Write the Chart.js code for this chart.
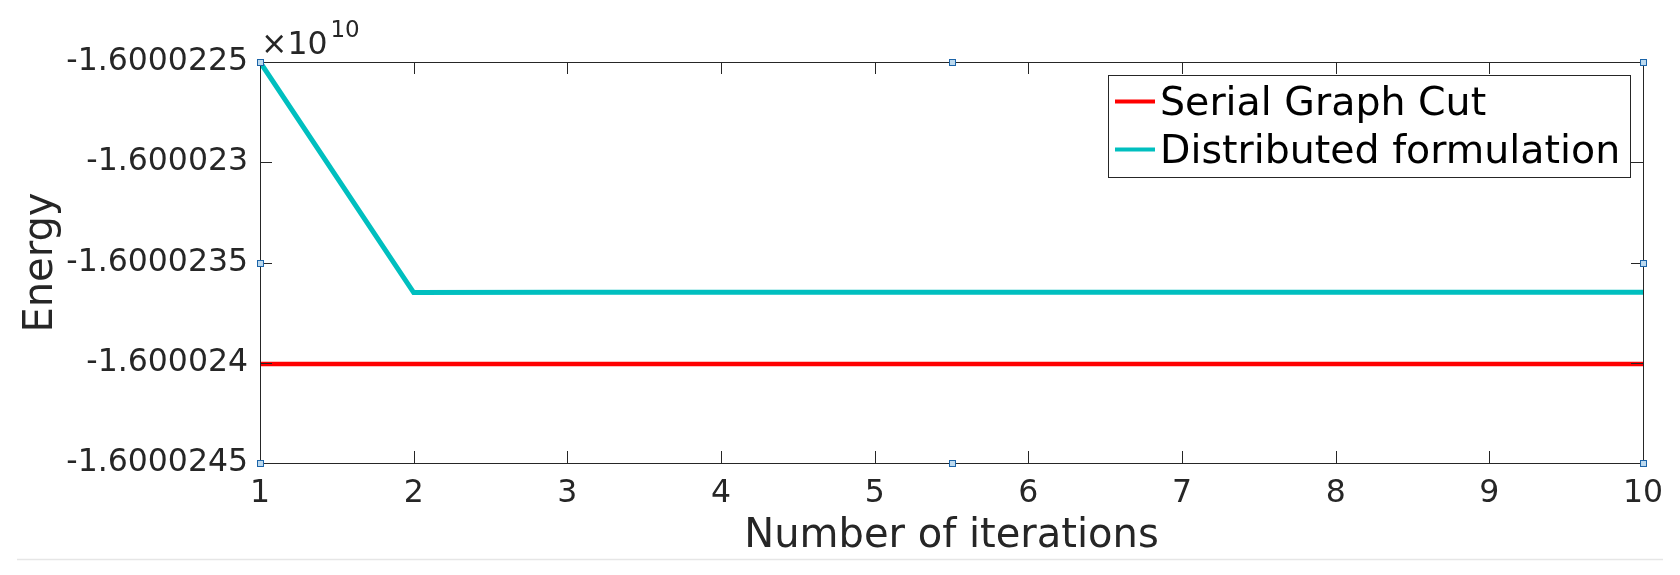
<!DOCTYPE html>
<html><head><meta charset="utf-8">
<script src="https://cdn.jsdelivr.net/npm/chart.js@4.4.1/dist/chart.umd.min.js"></script>
<style>html,body{margin:0;padding:0;background:#fff;} #wrap{width:1680px;height:575px;position:relative;}</style>
</head><body><div id="wrap"><canvas id="c" width="1680" height="575"></canvas></div>
<script>
const iterations = [1, 2, 3, 4, 5, 6, 7, 8, 9, 10];
const serialEnergy = [-16000240060, -16000240060, -16000240060, -16000240060, -16000240060, -16000240060, -16000240060, -16000240060, -16000240060, -16000240060];
const distributedEnergy = [-16000225000, -16000236500, -16000236480, -16000236480, -16000236480, -16000236480, -16000236480, -16000236480, -16000236480, -16000236480];
const seriesNames = ['Serial Graph Cut', 'Distributed formulation'];
const seriesColors = ['#ff0000', '#00bfbf'];
const xTickLabels = ['1', '2', '3', '4', '5', '6', '7', '8', '9', '10'];
const yTickValues = [-16000245000, -16000240000, -16000235000, -16000230000, -16000225000];
const yTickLabels = ['-1.6000245', '-1.600024', '-1.6000235', '-1.600023', '-1.6000225'];
const exponentText = ['\u00d710', '10'];
const xTitle = 'Number of iterations';
const yTitle = 'Energy';

const AX = '#262626';
const FONT = 'DejaVu Sans';

const decor = {
  id: 'decor',
  afterDraw(chart) {
    const ctx = chart.ctx;
    const a = chart.chartArea;
    const xs = chart.scales.x, ys = chart.scales.y;
    ctx.save();
    // box
    ctx.strokeStyle = AX; ctx.lineWidth = 1;
    ctx.strokeRect(Math.round(a.left) + 0.5, Math.round(a.top) + 0.5, Math.round(a.right - a.left), Math.round(a.bottom - a.top));
    // inward ticks
    const TL = 12;
    ctx.beginPath();
    xs.ticks.forEach(t => {
      const px = Math.round(xs.getPixelForValue(t.value)) + 0.5;
      ctx.moveTo(px, a.bottom); ctx.lineTo(px, a.bottom - TL);
      ctx.moveTo(px, a.top); ctx.lineTo(px, a.top + TL);
    });
    ys.ticks.forEach(t => {
      const py = Math.round(ys.getPixelForValue(t.value)) + 0.5;
      ctx.moveTo(a.left, py); ctx.lineTo(a.left + TL, py);
      ctx.moveTo(a.right, py); ctx.lineTo(a.right - TL, py);
    });
    ctx.stroke();
    // exponent label
    ctx.fillStyle = AX;
    ctx.textBaseline = 'alphabetic'; ctx.textAlign = 'left';
    ctx.font = '31.5px "' + FONT + '"';
    const ex = a.left + 1, eb = a.top - 8;
    ctx.fillText(exponentText[0], ex, eb);
    const w = ctx.measureText(exponentText[0]).width;
    ctx.font = '23px "' + FONT + '"';
    ctx.fillText(exponentText[1], ex + w + 3, eb - 17);
    // selection handles
    const xm = (a.left + a.right) / 2, ym = (a.top + a.bottom) / 2;
    const hs = [[a.left, a.top], [xm, a.top], [a.right, a.top], [a.left, ym], [a.right, ym], [a.left, a.bottom], [xm, a.bottom], [a.right, a.bottom]];
    hs.forEach(([hx, hy]) => {
      const cx = Math.round(hx), cy = Math.round(hy);
      ctx.fillStyle = '#bcd9ee';
      ctx.fillRect(cx - 3, cy - 3, 7, 7);
      ctx.strokeStyle = '#1c64a8'; ctx.lineWidth = 1;
      ctx.strokeRect(cx - 3 + 0.5, cy - 3 + 0.5, 6, 6);
    });
    // legend
    const lx0 = a.right - 535, lx1 = a.right - 13, ly0 = a.top + 13, ly1 = a.top + 115;
    ctx.fillStyle = '#ffffff';
    ctx.fillRect(lx0, ly0, lx1 - lx0, ly1 - ly0);
    ctx.strokeStyle = AX; ctx.lineWidth = 1;
    ctx.strokeRect(Math.round(lx0) + 0.5, Math.round(ly0) + 0.5, Math.round(lx1 - lx0), Math.round(ly1 - ly0));
    ctx.font = '39.5px "' + FONT + '"';
    ctx.textBaseline = 'alphabetic';
    chart.data.datasets.forEach((ds, i) => {
      const base = ly0 + 40 + i * 48;
      const mid = base - 13.5;
      ctx.strokeStyle = ds.borderColor; ctx.lineWidth = 4;
      ctx.beginPath(); ctx.moveTo(lx0 + 7, mid); ctx.lineTo(lx0 + 47, mid); ctx.stroke();
      ctx.fillStyle = '#000000';
      ctx.fillText(ds.label, lx0 + 52, base);
    });
    // figure edge line
    ctx.strokeStyle = '#e6e6e6'; ctx.lineWidth = 1.5;
    ctx.beginPath(); ctx.moveTo(17, 559.5); ctx.lineTo(1663, 559.5); ctx.stroke();
    ctx.restore();
  }
};

new Chart(document.getElementById('c').getContext('2d'), {
  type: 'line',
  data: {
    datasets: [
      { label: seriesNames[0], data: iterations.map((x, i) => ({ x: x, y: serialEnergy[i] })), borderColor: seriesColors[0], backgroundColor: seriesColors[0], borderWidth: 4.5, pointRadius: 0, tension: 0, fill: false },
      { label: seriesNames[1], data: iterations.map((x, i) => ({ x: x, y: distributedEnergy[i] })), borderColor: seriesColors[1], backgroundColor: seriesColors[1], borderWidth: 5, pointRadius: 0, tension: 0, fill: false }
    ]
  },
  options: {
    responsive: false,
    animation: false,
    devicePixelRatio: 1,
    layout: { padding: { top: 62, right: 37, bottom: 0, left: 0 } },
    plugins: { legend: { display: false }, tooltip: { enabled: false } },
    scales: {
      x: {
        type: 'linear', min: iterations[0], max: iterations[iterations.length - 1],
        afterBuildTicks(s) { s.ticks = iterations.map(v => ({ value: v })); },
        ticks: { callback: (v, i) => xTickLabels[i], color: AX, font: { family: FONT, size: 31.5 }, padding: 12, maxRotation: 0, autoSkip: false },
        grid: { display: false, drawTicks: false },
        border: { display: true, color: AX, width: 1 },
        title: { display: true, text: xTitle, color: AX, font: { family: FONT, size: 40 }, padding: { top: 0, bottom: 14 } },
        afterFit(s) { s.height = 112; }
      },
      y: {
        type: 'linear', min: yTickValues[0], max: yTickValues[yTickValues.length - 1],
        afterBuildTicks(s) { s.ticks = yTickValues.map(v => ({ value: v })); },
        ticks: { callback: (v, i) => yTickLabels[i], color: AX, font: { family: FONT, size: 31.5 }, padding: 12, autoSkip: false },
        grid: { display: false, drawTicks: false },
        border: { display: true, color: AX, width: 1 },
        title: { display: true, text: yTitle, color: AX, font: { family: FONT, size: 40 }, padding: { top: 18, bottom: 0 } },
        afterFit(s) { s.width = 260; }
      }
    }
  },
  plugins: [decor]
});
</script>
</body></html>
